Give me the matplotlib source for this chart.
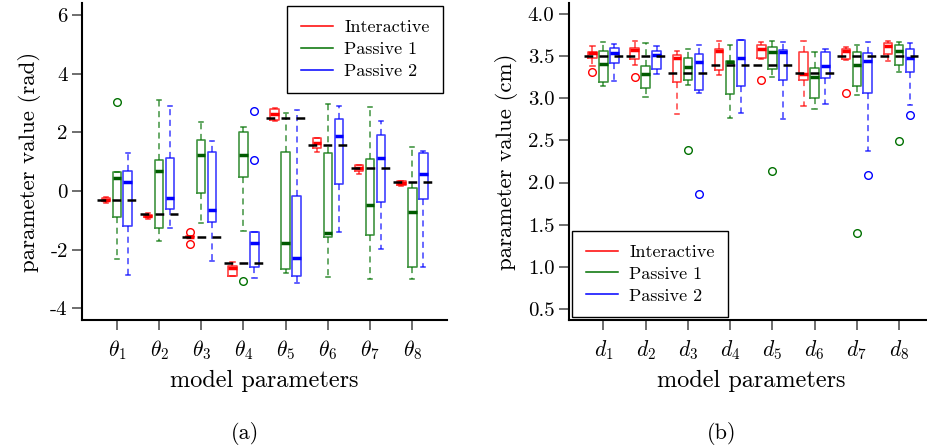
import matplotlib
matplotlib.use('Agg')
import matplotlib.pyplot as plt
from matplotlib.ticker import FormatStrFormatter
import numpy as np

plt.rcParams['font.family'] = 'cmr10'
plt.rcParams['mathtext.fontset'] = 'cm'
plt.rcParams['axes.formatter.use_mathtext'] = False
plt.rcParams['axes.unicode_minus'] = False

# ── data: (whislo, q1, median, q3, whishi) per parameter ──
THETA_LABELS = [r'$\theta_{%d}$' % i for i in range(1, 9)]
THETA_TRUE = [-0.31, -0.78, -1.57, -2.47, 2.50, 1.57, 0.80, 0.31]
THETA_INTER = [(-0.40, -0.34, -0.30, -0.24, -0.20), (-0.95, -0.90, -0.85, -0.80, -0.75),
               (-1.60, -1.58, -1.56, -1.54, -1.52), (-2.90, -2.89, -2.62, -2.55, -2.41),
               (2.40, 2.42, 2.63, 2.79, 2.82), (1.34, 1.46, 1.65, 1.80, 1.82),
               (0.60, 0.69, 0.80, 0.88, 0.90), (0.18, 0.20, 0.28, 0.34, 0.36)]
THETA_INTER_OUT = [[], [], [-1.41, -1.79], [], [], [], [], []]
THETA_P1 = [(-2.32, -0.88, 0.45, 0.64, 0.64), (-1.70, -1.25, 0.69, 1.06, 3.10),
            (-1.10, -0.06, 1.24, 1.74, 2.37), (-1.35, 0.47, 1.23, 2.02, 2.19),
            (-2.79, -2.65, -1.77, 1.34, 2.67), (-2.92, -1.58, -1.44, 1.30, 2.96),
            (-3.01, -1.51, -0.48, 1.10, 2.88), (-2.99, -2.59, -0.73, 0.09, 1.49)]
THETA_P1_OUT = [[3.03], [], [], [-3.07], [], [], [], []]
THETA_P2 = [(-2.88, -1.20, 0.30, 0.69, 1.29), (-1.27, -0.62, -0.22, 1.12, 2.90),
            (-2.39, -1.05, -0.65, 1.34, 1.72), (-2.96, -2.60, -1.76, -1.40, -1.40),
            (-3.14, -2.91, -2.30, -0.16, 2.76), (-1.39, 0.24, 1.88, 2.45, 2.91),
            (-1.97, -0.38, 1.14, 1.93, 2.40), (-2.60, -0.28, 0.57, 1.29, 1.37)]
THETA_P2_OUT = [[], [], [], [2.75, 1.07], [], [], [], []]

D_LABELS = [r'$d_{%d}$' % i for i in range(1, 9)]
D_TRUE = [3.50, 3.50, 3.30, 3.40, 3.40, 3.30, 3.50, 3.50]
D_INTER = [(3.39, 3.48, 3.54, 3.55, 3.62), (3.40, 3.47, 3.58, 3.60, 3.68),
           (2.81, 3.19, 3.48, 3.52, 3.57), (3.28, 3.34, 3.57, 3.59, 3.68),
           (3.47, 3.48, 3.59, 3.64, 3.67), (2.91, 3.22, 3.29, 3.55, 3.68),
           (3.46, 3.47, 3.57, 3.59, 3.61), (3.45, 3.53, 3.62, 3.66, 3.68)]
D_INTER_OUT = [[3.32], [3.26], [], [], [3.22], [], [3.06], []]
D_P1 = [(3.15, 3.20, 3.41, 3.57, 3.67), (3.02, 3.13, 3.29, 3.39, 3.66),
        (3.16, 3.22, 3.37, 3.48, 3.59), (2.77, 3.05, 3.43, 3.45, 3.64),
        (3.26, 3.35, 3.55, 3.61, 3.68), (2.87, 3.00, 3.26, 3.36, 3.55),
        (3.04, 3.15, 3.40, 3.55, 3.63), (3.31, 3.40, 3.56, 3.63, 3.67)]
D_P1_OUT = [[], [], [2.39], [], [2.14], [], [1.40], [2.49]]
D_P2 = [(3.21, 3.42, 3.54, 3.60, 3.65), (3.29, 3.35, 3.52, 3.56, 3.62),
        (3.06, 3.10, 3.43, 3.53, 3.63), (2.83, 3.15, 3.48, 3.69, 3.69),
        (2.76, 3.22, 3.55, 3.58, 3.67), (2.93, 3.24, 3.39, 3.55, 3.59),
        (2.38, 3.06, 3.45, 3.54, 3.67), (2.92, 3.31, 3.48, 3.59, 3.66)]
D_P2_OUT = [[], [], [1.86], [], [], [], [2.09], [2.80]]

SERIES = ['Interactive', 'Passive 1', 'Passive 2']
COLORS = ['#ff0000', '#007000', '#0000ff']
MED_COLORS = ['#ff0000', '#005a00', '#0000ff']


def to_stats(rows, outliers):
    return [dict(whislo=r[0], q1=r[1], med=r[2], q3=r[3], whishi=r[4], fliers=o)
            for r, o in zip(rows, outliers)]


def panel(ax, groups, truth, labels, ylim, yticks, ylabel):
    base = np.arange(1, 9)
    for k, (rows, outs) in enumerate(groups):
        c = COLORS[k]
        ax.bxp(to_stats(rows, outs), positions=base + (k - 1) * 0.26, widths=0.2,
               capwidths=0.1, manage_ticks=False,
               boxprops=dict(color=c, lw=1.2, alpha=0.75),
               whiskerprops=dict(color=c, lw=1.1, ls=(0, (4, 3)), alpha=0.75),
               capprops=dict(color=c, lw=1.1, alpha=0.8),
               medianprops=dict(color=MED_COLORS[k], lw=2.5),
               flierprops=dict(marker='o', markerfacecolor='none',
                               markeredgecolor=c, markersize=5.5, mew=1))
    for x, t in zip(base, truth):
        ax.plot([x - 0.46, x + 0.46], [t, t], color='black', lw=1.8,
                ls=(0, (3.5, 2.5)), zorder=5)
    ax.set_xlim(0.185, 8.815)
    ax.set_ylim(*ylim)
    ax.set_xticks(base)
    ax.set_xticklabels(labels)
    ax.set_yticks(yticks)
    for s in ['top', 'right']:
        ax.spines[s].set_visible(False)
    for s in ['left', 'bottom']:
        ax.spines[s].set_linewidth(1.5)
    ax.tick_params(axis='both', length=7, width=1.2, color='#555555', labelsize=15)
    ax.tick_params(axis='x', labelsize=15.5, pad=6)
    ax.set_xlabel('model parameters', fontsize=17.5, labelpad=6)
    ax.set_ylabel(ylabel, fontsize=16.5, labelpad=7)


fig = plt.figure(figsize=(9.28, 4.47), dpi=100)
ax1 = fig.add_axes([0.0887, 0.2841, 0.3927, 0.7092])
ax2 = fig.add_axes([0.6131, 0.2841, 0.3927, 0.7092])

panel(ax1, [(THETA_INTER, THETA_INTER_OUT), (THETA_P1, THETA_P1_OUT),
            (THETA_P2, THETA_P2_OUT)], THETA_TRUE, THETA_LABELS,
      (-4.4, 6.42), [-4, -2, 0, 2, 4, 6], 'parameter value (rad)')
ax1.yaxis.set_major_formatter(FormatStrFormatter('%d'))
panel(ax2, [(D_INTER, D_INTER_OUT), (D_P1, D_P1_OUT), (D_P2, D_P2_OUT)],
      D_TRUE, D_LABELS, (0.365, 4.135), [0.5, 1.0, 1.5, 2.0, 2.5, 3.0, 3.5, 4.0],
      'parameter value (cm)')
ax2.yaxis.set_major_formatter(FormatStrFormatter('%.1f'))

handles = [plt.Line2D([], [], color=c, lw=1.1) for c in COLORS]
for ax, loc, anchor in [(ax1, 'upper right', (0.99, 0.9905)),
                        (ax2, 'lower left', (0.009, 0.0085))]:
    leg = ax.legend(handles, SERIES, loc=loc, bbox_to_anchor=anchor, fontsize=13,
                    fancybox=False, edgecolor='black', framealpha=1,
                    handlelength=1.8, handletextpad=0.6, borderpad=0.75,
                    labelspacing=0.35, borderaxespad=0)
    leg.get_frame().set_linewidth(1.0)

fig.text(0.264, 0.031, '(a)', ha='center', va='center', fontsize=16)
fig.text(0.778, 0.031, '(b)', ha='center', va='center', fontsize=16)

fig.savefig('out.png', dpi=100)
